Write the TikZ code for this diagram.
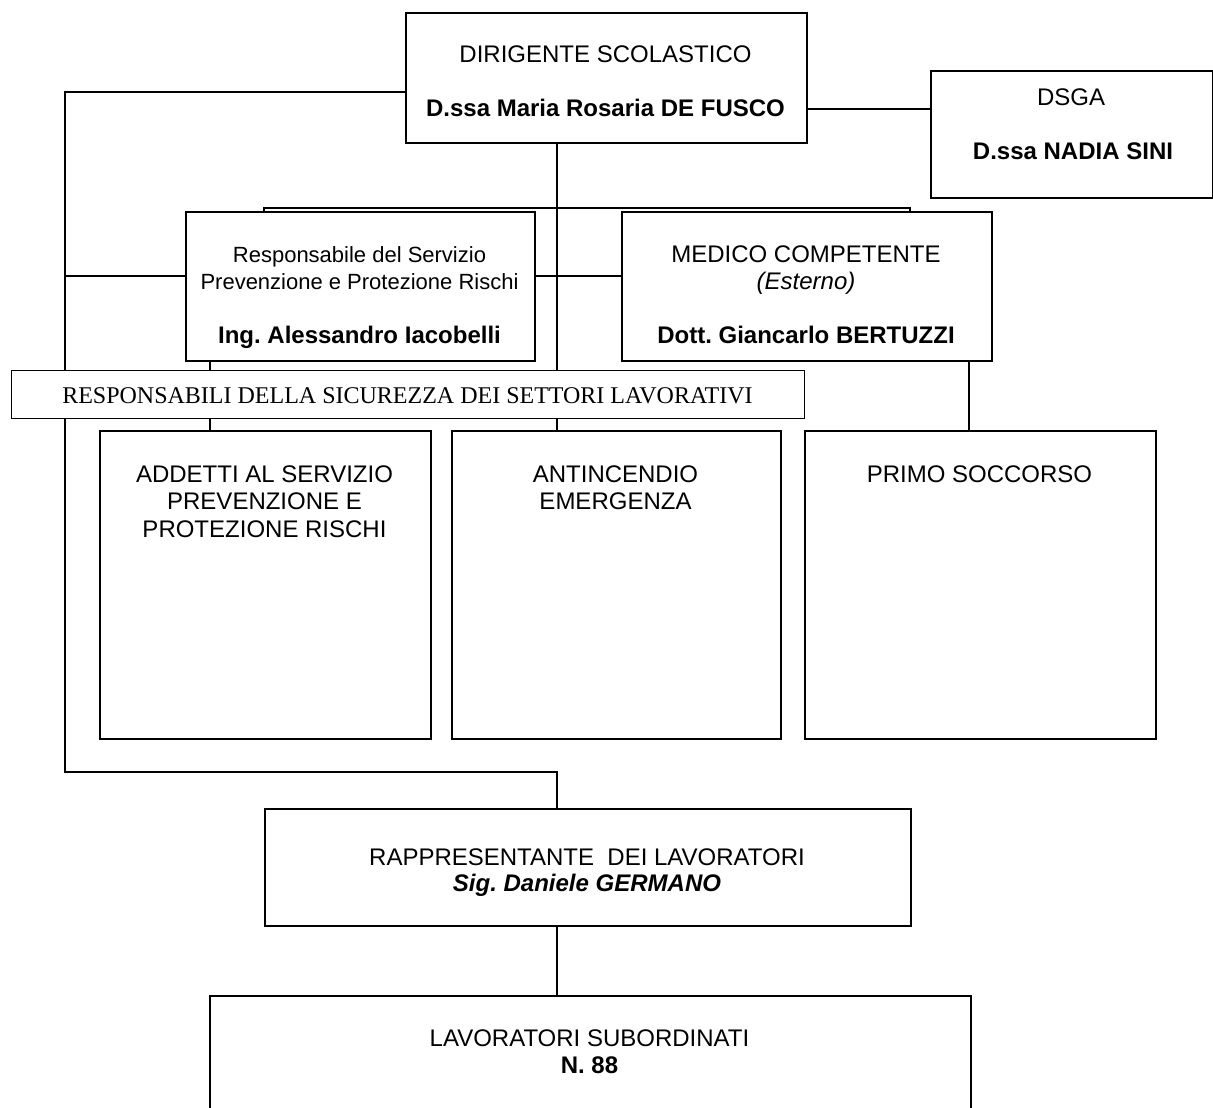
\documentclass[tikz,border=0pt]{standalone}
\usepackage{fontspec}
\setmainfont{Liberation Sans}
\newfontfamily\barfont{Liberation Serif}
\frenchspacing
\begin{document}
\frenchspacing
\begin{tikzpicture}[x=1pt,y=-1pt,
  box/.style={draw, line width=1.9pt, rectangle, anchor=north west, inner sep=0pt, fill=white},
  conn/.style={line width=1.9pt},
  txt/.style={anchor=base, inner sep=0pt, font=\fontsize{24}{27.5}\selectfont},
  smalltxt/.style={anchor=base, inner sep=0pt, font=\fontsize{22}{26}\selectfont}]
\useasboundingbox (0,0) rectangle (1213,1108);

% boxes
\node[box, minimum width=401pt, minimum height=130pt] (dir) at (405,12) {};
\node[box, minimum width=281.5pt, minimum height=127pt] (dsga) at (930,70) {};
\node[box, minimum width=349pt, minimum height=149pt] (rspp) at (185,211) {};
\node[box, minimum width=370pt, minimum height=149pt] (med) at (621,211) {};
\node[box, minimum width=331pt, minimum height=308pt] (add) at (99,430) {};
\node[box, minimum width=329pt, minimum height=308pt] (ant) at (451,430) {};
\node[box, minimum width=351pt, minimum height=308pt] (pri) at (804,430) {};
\node[box, minimum width=646pt, minimum height=117pt] (rap) at (264,808) {};
\node[box, minimum width=761pt, minimum height=130pt] (lav) at (209,995) {};

% connector coordinates
\coordinate (dL) at (405,92);
\coordinate (cL) at (65,772);
\coordinate (dR) at (806,109);
\coordinate (dB) at (557,142);
\coordinate (bL) at (264,208);
\coordinate (bR) at (910,208);
\coordinate (sL) at (65,276);
\coordinate (rB) at (210,360);
\coordinate (mB) at (969,360);

% connectors
\draw[conn] (dL) -| (cL) -| (rap.north -| dB);
\draw[conn] (dR) -- (dR -| dsga.west);
\draw[conn] (dB) -- (dB |- ant.north);
\draw[conn] (rspp.north -| bL) -- (bL) -- (bR) -- (bR |- med.north);
\draw[conn] (sL) -- (sL -| rspp.west);
\draw[conn] (rspp.east |- sL) -- (sL -| med.west);
\draw[conn] (rB) -- (rB |- add.north);
\draw[conn] (mB) -- (mB |- pri.north);
\draw[conn] (rap.south -| dB) -- (lav.north -| dB);

% bar over the lines
\node[box, line width=1.3pt, minimum width=793pt, minimum height=48pt] (bar) at (11,370) {};
\node[txt, font=\barfont\fontsize{24}{27.5}\selectfont] (bart) at (407.5,403) {RESPONSABILI DELLA SICUREZZA DEI SETTORI LAVORATIVI};

% texts
\node[txt] (dir1) at (605.5,63) {DIRIGENTE SCOLASTICO};
\node[txt, font=\bfseries\fontsize{24}{27.5}\selectfont] (dir2) at (605.5,117) {D.ssa Maria Rosaria DE FUSCO};

\node[txt] (dsga1) at (1071,105) {DSGA};
\node[txt, font=\bfseries\fontsize{24}{27.5}\selectfont] (dsga2) at (1073,159) {D.ssa NADIA SINI};

\node[smalltxt] (rs1) at (359.5,262) {Responsabile del Servizio};
\node[smalltxt] (rs2) at (359.5,289) {Prevenzione e Protezione Rischi};
\node[txt, font=\bfseries\fontsize{24}{27.5}\selectfont] (rs3) at (359.5,343) {Ing. Alessandro Iacobelli};

\node[txt] (md1) at (806,262) {MEDICO COMPETENTE};
\node[txt, font=\itshape\fontsize{24}{27.5}\selectfont] (md2) at (806,289) {(Esterno)};
\node[txt, font=\bfseries\fontsize{24}{27.5}\selectfont] (md3) at (806,343) {Dott. Giancarlo BERTUZZI};

\node[txt] (ad1) at (264.5,482) {ADDETTI AL SERVIZIO};
\node[txt] (ad2) at (264.5,509.5) {PREVENZIONE E};
\node[txt] (ad3) at (264.5,537) {PROTEZIONE RISCHI};

\node[txt] (an1) at (615.5,482) {ANTINCENDIO};
\node[txt] (an2) at (615.5,509.5) {EMERGENZA};

\node[txt] (pr1) at (979.5,482) {PRIMO SOCCORSO};

\node[txt] (ra1) at (587,865) {RAPPRESENTANTE\ \ DEI LAVORATORI};
\node[txt, font=\bfseries\itshape\fontsize{24}{27.5}\selectfont] (ra2) at (587,891) {Sig. Daniele GERMANO};

\node[txt] (lv1) at (589.5,1046) {LAVORATORI SUBORDINATI};
\node[txt, font=\bfseries\fontsize{24}{27.5}\selectfont] (lv2) at (589.5,1073) {N. 88};
\end{tikzpicture}
\end{document}
